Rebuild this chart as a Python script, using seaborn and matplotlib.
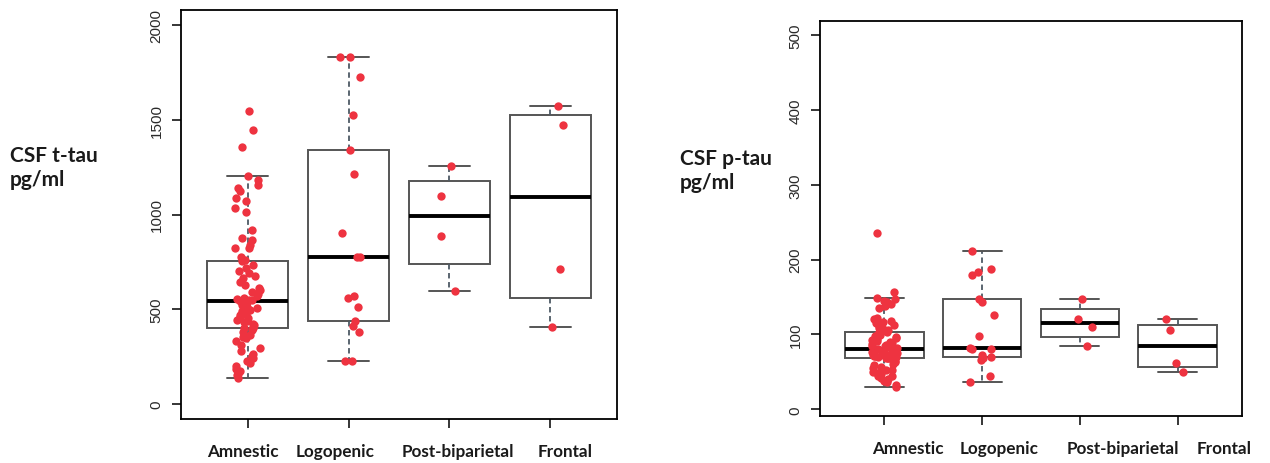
import math
import numpy as np
import pandas as pd
import matplotlib
matplotlib.use("Agg")
import matplotlib.pyplot as plt
import matplotlib.transforms as mtransforms
import seaborn as sns

# ---------------- data ----------------
categories = ["Amnestic", "Logopenic", "Post-biparietal", "Frontal"]

ttau_amnestic = [1544, 1444, 1356, 1204, 1181, 1158, 1140, 1123, 1088, 1070,
                 1032, 1014, 917, 874, 865, 838, 825, 821, 777, 760,
                 754,
                 733, 716, 700, 689, 675, 663, 646, 630, 611, 600,
                 593, 580, 567, 560, 555, 549, 548, 546, 545,
                 544,
                 540, 530, 520, 512, 505, 498, 490, 482, 475, 468,
                 460, 452, 445, 438, 430, 422, 415, 408, 403,
                 400,
                 390, 378, 365, 355, 347, 330, 312, 295, 277, 265,
                 251, 240, 224, 215, 198, 185, 172, 160, 150, 137]
ttau_logopenic = [1830, 1830, 1728, 1528, 1338, 1216, 900, 777, 777,
                  567, 561, 514, 440, 409, 382, 224, 224]
ttau_postbip = [1256, 1100, 885, 596]
ttau_frontal = [1575, 1474, 710, 405]

ptau_amnestic = [236, 157, 149, 147, 145, 143, 141, 138, 135, 122,
                 120, 118, 116, 115, 113, 111, 110, 108, 106, 105,
                 103,
                 102, 101, 100, 99, 98, 97, 96, 95, 94, 92,
                 91, 90, 88, 87, 86, 85, 84, 83, 82,
                 80,
                 79, 79, 78, 77, 76, 75, 75, 74, 73, 73,
                 72, 72, 71, 71, 70, 70, 69, 69, 68,
                 68,
                 67, 65, 63, 61, 59, 57, 55, 53, 52, 50,
                 48, 47, 45, 44, 42, 40, 38, 36, 33, 30]
ptau_logopenic = [212, 187, 183, 179, 148, 143, 126, 98, 82, 81, 80,
                  72, 70, 68, 66, 45, 36]
ptau_postbip = [148, 121, 110, 84]
ptau_frontal = [120, 106, 62, 50]

ttau_ticks = [0, 500, 1000, 1500, 2000]
ptau_ticks = [0, 100, 200, 300, 400, 500]

ylabel_left = "CSF t-tau\npg/ml"
ylabel_right = "CSF p-tau\npg/ml"

# ---------------- style ----------------
RED = "#EE3340"
BOXC = "#555555"
WHISC = "#4d5964"
LABEL_FONT = ["Lato", "DejaVu Sans"]
TICK_FONT = ["Liberation Sans", "DejaVu Sans"]

sns.set_style("white")
plt.rcParams["font.family"] = ["Liberation Sans", "DejaVu Sans"]


def r_boxstats(values):
    """Five-number summary as R's boxplot.stats (Tukey hinges)."""
    x = sorted(values)
    n = len(x)
    n4 = math.floor((n + 3) / 2) / 2
    d = [1, n4, (n + 1) / 2, n + 1 - n4, n]
    fn = [0.5 * (x[math.floor(di) - 1] + x[math.ceil(di) - 1]) for di in d]
    iqr = fn[3] - fn[1]
    lo, hi = fn[1] - 1.5 * iqr, fn[3] + 1.5 * iqr
    return dict(med=fn[2], q1=fn[1], q3=fn[3],
                whislo=min(v for v in x if v >= lo),
                whishi=max(v for v in x if v <= hi),
                fliers=[])


def panel(ax, groups, ylim, yticks, tick_fs, label_shifts_px, seed):
    stats = [r_boxstats(g) for g in groups]
    ax.bxp(stats, positions=range(len(groups)), widths=0.8, capwidths=0.4,
           showfliers=False, patch_artist=True, manage_ticks=False,
           boxprops=dict(facecolor="white", edgecolor=BOXC, linewidth=1.4),
           medianprops=dict(color="black", linewidth=2.8),
           whiskerprops=dict(color=WHISC, linewidth=1.3, linestyle=(0, (3, 2))),
           capprops=dict(color=BOXC, linewidth=1.4), zorder=1)
    df = pd.DataFrame({
        "group": np.concatenate([[c] * len(g) for c, g in zip(categories, groups)]),
        "value": np.concatenate([np.asarray(g, float) for g in groups]),
    })
    np.random.seed(seed)
    sns.stripplot(data=df, x="group", y="value", order=categories, ax=ax,
                  color=RED, size=6, jitter=0.13, linewidth=0, zorder=3)
    ax.set_xlim(-0.66, 3.66)
    ax.set_ylim(*ylim)
    ax.tick_params(axis="both", which="both", direction="out", length=6.5,
                   width=1.1, color="black", left=True, bottom=True)
    ax.tick_params(axis="x", pad=11)
    ax.tick_params(axis="y", pad=6)
    ax.set_yticks(yticks)
    ax.set_yticklabels([str(t) for t in yticks], rotation=90, va="center",
                       fontsize=tick_fs, family=TICK_FONT, color="#2a2a2a")
    ax.set_xticks(range(len(categories)))
    ax.set_xticklabels(categories, fontsize=12.3, family=LABEL_FONT,
                       fontweight="bold", color="#1a1a1a")
    ax.set_xlabel("")
    ax.set_ylabel("")
    for lab, dx in zip(ax.get_xticklabels(), label_shifts_px):
        lab.set_transform(lab.get_transform() + mtransforms.ScaledTranslation(
            dx / 100.0, 0, ax.figure.dpi_scale_trans))
    for s in ax.spines.values():
        s.set_visible(True)
        s.set_color("black")
        s.set_linewidth(1.3)


fig = plt.figure(figsize=(12.7, 4.64), dpi=100)
ax1 = fig.add_axes([181 / 1270, 44 / 464, 436 / 1270, 409 / 464])
ax2 = fig.add_axes([820 / 1270, 47 / 464, 422 / 1270, 395 / 464])

panel(ax1, [ttau_amnestic, ttau_logopenic, ttau_postbip, ttau_frontal],
      (-80, 2080), ttau_ticks, 11, [-5, -13, 8, 15], 3)
panel(ax2, [ptau_amnestic, ptau_logopenic, ptau_postbip, ptau_frontal],
      (-9, 519), ptau_ticks, 11, [23, 17, 43, 47], 5)

fig.text(10 / 1270, 1 - 168 / 464, ylabel_left, ha="left", va="center",
         fontsize=15, fontweight="bold", family=LABEL_FONT, color="#1a1a1a",
         linespacing=1.3)
fig.text(680 / 1270, 1 - 171 / 464, ylabel_right, ha="left", va="center",
         fontsize=15, fontweight="bold", family=LABEL_FONT, color="#1a1a1a",
         linespacing=1.3)

fig.savefig("out.png", dpi=100, facecolor="white")
